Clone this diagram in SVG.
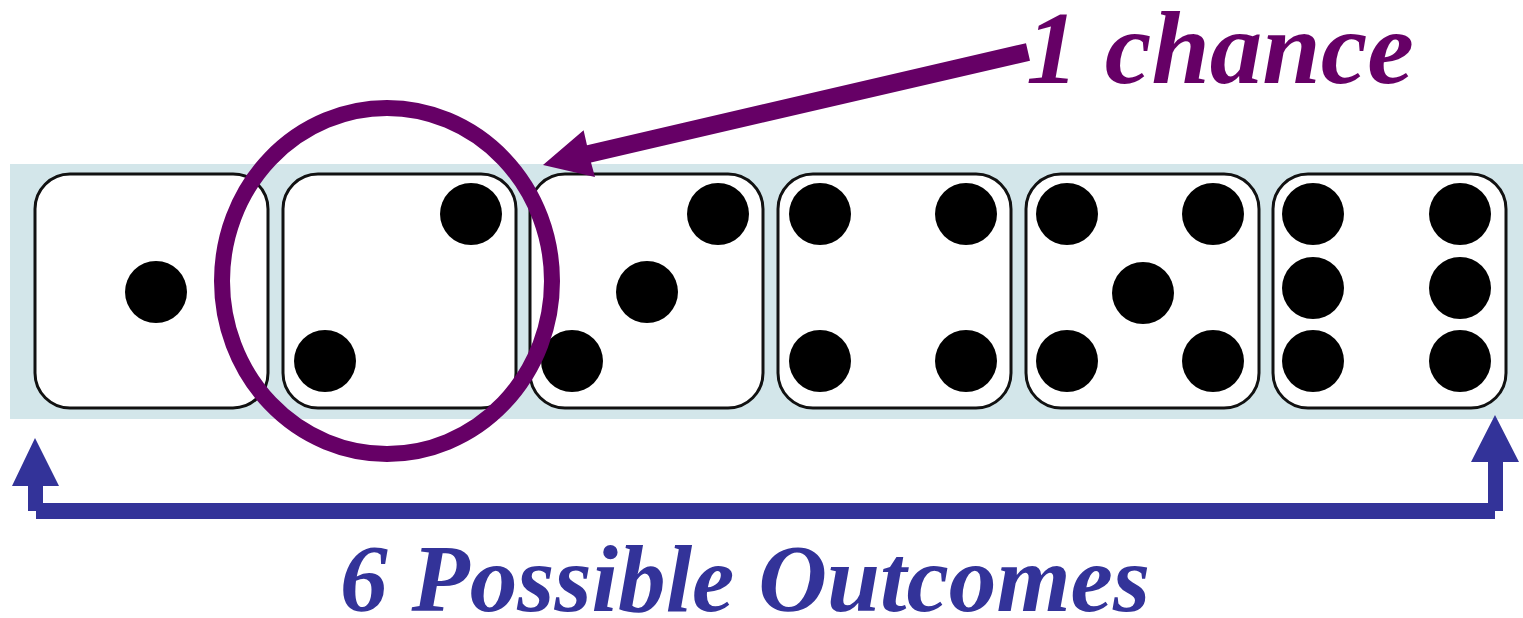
<svg xmlns="http://www.w3.org/2000/svg" width="1523" height="618" viewBox="0 0 1523 618">
<defs>
<style>
.die{fill:#ffffff;stroke:#111111;stroke-width:3}
.pip{fill:#000000}
.purple{fill:#660066}
.blue{fill:#333399}
.lbl{font-family:"Liberation Serif","Times New Roman",serif;font-weight:bold;font-style:italic}
</style>
</defs>
<rect id="band" x="10" y="164" width="1513" height="255" fill="#d3e6ea"/>
<g id="die1"><rect class="die" x="35" y="174" width="233" height="234" rx="35"/><circle class="pip" cx="156" cy="292" r="31"/></g>
<g id="die2"><rect class="die" x="283" y="174" width="233" height="234" rx="35"/><circle class="pip" cx="471" cy="214" r="31"/><circle class="pip" cx="325" cy="361" r="31"/></g>
<g id="die3"><rect class="die" x="530" y="174" width="233" height="234" rx="35"/><circle class="pip" cx="718" cy="214" r="31"/><circle class="pip" cx="647" cy="292" r="31"/><circle class="pip" cx="572" cy="361" r="31"/></g>
<g id="die4"><rect class="die" x="778" y="174" width="233" height="234" rx="35"/><circle class="pip" cx="820" cy="214" r="31"/><circle class="pip" cx="966" cy="214" r="31"/><circle class="pip" cx="820" cy="361" r="31"/><circle class="pip" cx="966" cy="361" r="31"/></g>
<g id="die5"><rect class="die" x="1026" y="174" width="233" height="234" rx="35"/><circle class="pip" cx="1067" cy="214" r="31"/><circle class="pip" cx="1213" cy="214" r="31"/><circle class="pip" cx="1143" cy="293" r="31"/><circle class="pip" cx="1067" cy="361" r="31"/><circle class="pip" cx="1213" cy="361" r="31"/></g>
<g id="die6"><rect class="die" x="1273" y="174" width="233" height="234" rx="35"/><circle class="pip" cx="1313" cy="214" r="31"/><circle class="pip" cx="1460" cy="214" r="31"/><circle class="pip" cx="1313" cy="288" r="31"/><circle class="pip" cx="1460" cy="288" r="31"/><circle class="pip" cx="1313" cy="361" r="31"/><circle class="pip" cx="1460" cy="361" r="31"/></g>
<g id="highlight"><ellipse cx="387" cy="281" rx="165" ry="173" fill="none" stroke="#660066" stroke-width="16"/></g>
<g id="connectors">
<polygon class="purple" points="543,165 583.6,130.2 587,145.2 1026,43.2 1030,60.8 591,162.4 595,177"/>
<polygon class="blue" points="35,438 59,486 43,486 43,503 1488,503 1488,462 1471,462 1495,415 1519,462 1503,462 1503,511 1495,511 1495,519 36,519 36,511 28,511 28,486 12,486"/>
</g>
<g id="label-chance"><text class="lbl" x="1026" y="83" font-size="104" fill="#660066" textLength="388" lengthAdjust="spacingAndGlyphs">1 chance</text></g>
<g id="label-outcomes"><text class="lbl" x="340" y="611" font-size="95" fill="#333399" textLength="810" lengthAdjust="spacingAndGlyphs">6 Possible Outcomes</text></g>
</svg>
